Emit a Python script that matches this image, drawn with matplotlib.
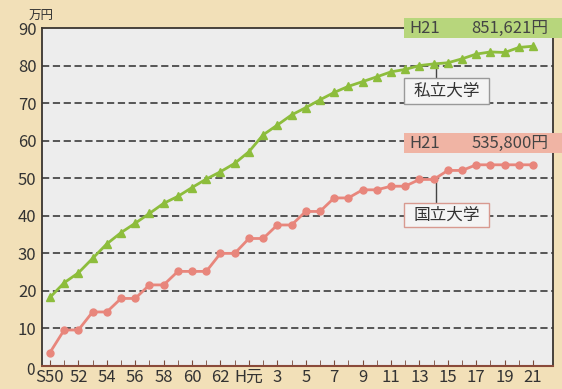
import matplotlib
matplotlib.use('Agg')
import matplotlib.pyplot as plt
from matplotlib.patches import Rectangle

plt.rcParams['font.family'] = ['Noto Sans CJK JP', 'DejaVu Sans']

# 授業料の推移 (万円), S50 (1975) - H21 (2009)
years = list(range(1975, 2010))
private_fee = [18.27, 22.18, 24.81, 28.66, 32.52, 35.52, 38.03, 40.63, 43.32, 45.17,
               47.53, 49.78, 51.74, 53.96, 57.06, 61.55, 64.16, 66.85, 68.80, 70.88,
               72.84, 74.47, 75.72, 77.00, 78.33, 78.97, 80.00, 80.44, 80.74, 81.80,
               83.06, 83.63, 83.48, 84.82, 85.16]
national_fee = [3.60, 9.60, 9.60, 14.40, 14.40, 18.00, 18.00, 21.60, 21.60, 25.20,
                25.20, 25.20, 30.00, 30.00, 33.96, 33.96, 37.56, 37.56, 41.16, 41.16,
                44.76, 44.76, 46.92, 46.92, 47.88, 47.88, 49.68, 49.68, 52.08, 52.08,
                53.58, 53.58, 53.58, 53.58, 53.58]
tick_labels = ['S50', '52', '54', '56', '58', '60', '62', 'H元', '3', '5', '7', '9',
               '11', '13', '15', '17', '19', '21']
y_ticks = [0, 10, 20, 30, 40, 50, 60, 70, 80, 90]

x = list(range(len(years)))

fig = plt.figure(figsize=(5.62, 3.89), dpi=100)
fig.patch.set_facecolor('#f2e0b8')
ax = fig.add_axes([0.075, 0.059, 0.909, 0.869])
ax.set_facecolor('#ededed')

ax.plot(x, private_fee, color='#8dbd3c', lw=2, marker='^', ms=5.5, zorder=3)
ax.plot(x, national_fee, color='#e8867c', lw=2, marker='o', ms=5, zorder=3)

ax.set_xlim(-0.55, 35.4)
ax.set_ylim(0, 90)

# 破線のグリッド
for v in y_ticks[1:-1]:
    ax.axhline(v, color='#4a4a4a', lw=1.3, ls=(0, (4, 2)), zorder=1)

ax.set_yticks(y_ticks)
ax.set_yticklabels([str(v) if v else '' for v in y_ticks], fontsize=12, color='#333333')
ax.text(-0.022, -1.2, '0', transform=ax.get_yaxis_transform(), fontsize=11,
        color='#333333', ha='center', va='center')
ax.set_xticks(x, minor=True)
ax.set_xticks(x[::2])
ax.set_xticklabels(tick_labels, fontsize=12, color='#333333')
ax.tick_params(axis='y', length=0, pad=4)
ax.tick_params(axis='x', which='both', direction='in', length=4, color='#7a4a3a', pad=2)

for s in ['left', 'top', 'right']:
    ax.spines[s].set_color('#3a3530')
    ax.spines[s].set_linewidth(1.3)
ax.spines['bottom'].set_color('#8a4a3a')
ax.spines['bottom'].set_linewidth(1.5)

ax.text(-0.027, 1.015, '万円', transform=ax.transAxes, fontsize=9, color='#333333',
        ha='left', va='bottom')

# H21 の値ラベル
ax.add_patch(Rectangle((24.9, 87.3), 12, 5.4, facecolor='#b7d67c', edgecolor='none',
                       clip_on=False, zorder=4))
ax.text(25.3, 90, 'H21', fontsize=12, color='#444444', va='center', zorder=5)
ax.text(35.1, 90, '851,621円', fontsize=12, color='#444444', va='center', ha='right',
        zorder=5)
ax.add_patch(Rectangle((24.9, 56.6), 12, 5.4, facecolor='#f0b4a4', edgecolor='none',
                       clip_on=False, zorder=4))
ax.text(25.3, 59.3, 'H21', fontsize=12, color='#444444', va='center', zorder=5)
ax.text(35.1, 59.3, '535,800円', fontsize=12, color='#444444', va='center', ha='right',
        zorder=5)

# 系列名
ax.plot([27.2, 27.2], [private_fee[27], 76.6], color='#444444', lw=1, zorder=2)
ax.add_patch(Rectangle((24.9, 69.8), 6.0, 6.8, facecolor='#f4f4f4', edgecolor='#999999',
                       lw=1, zorder=4))
ax.text(27.9, 73.2, '私立大学', fontsize=12, color='#333333', ha='center', va='center',
        zorder=5)
ax.plot([27.2, 27.2], [national_fee[27], 43.4], color='#444444', lw=1, zorder=2)
ax.add_patch(Rectangle((24.9, 37.0), 6.0, 6.4, facecolor='#f4f4f4', edgecolor='#d89a90',
                       lw=1, zorder=4))
ax.text(27.9, 40.2, '国立大学', fontsize=12, color='#333333', ha='center', va='center',
        zorder=5)

fig.savefig('out.png', dpi=100, facecolor=fig.get_facecolor())
